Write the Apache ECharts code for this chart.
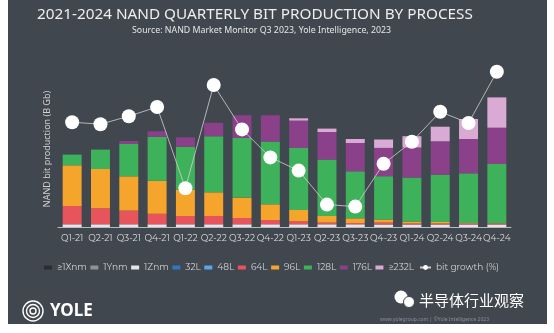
<!DOCTYPE html>
<html>
<head>
<meta charset="utf-8">
<script src="https://cdn.jsdelivr.net/npm/echarts@6/dist/echarts.min.js"></script>
<style>
html,body{margin:0;padding:0;background:#ffffff;}
#chart{width:554px;height:333px;}
</style>
</head>
<body>
<div id="chart"></div>
<script>
const categories = ['Q1-21','Q2-21','Q3-21','Q4-21','Q1-22','Q2-22','Q3-22','Q4-22','Q1-23','Q2-23','Q3-23','Q4-23','Q1-24','Q2-24','Q3-24','Q4-24'];
const x1nm  = [0,0,0,0,0,0,0,0,0,0,0,0,0,0,0,0];
const y1nm  = [0,0,0,0,0,0,0,0,0,0,0,0,0,0,0,0];
const z1nm  = [27,27,27,27,27,27,27,27,27,27,27,25,25,25,25,25];
const l32   = [0,0,0,0,0,0,0,0,0,0,0,0,0,0,0,0];
const l48   = [0,0,0,0,0,0,0,0,0,0,0,0,0,0,0,0];
const l64   = [183,160,137,105,83,83,63,43,30,17,13,20,10,10,10,10];
const l96   = [407,393,343,330,262,237,204,157,113,66,47,30,20,15,5,3];
const l128  = [107,194,323,440,430,560,596,627,620,564,470,433,440,473,497,592];
const l176  = [0,0,30,55,95,135,227,263,274,276,283,283,300,334,343,363];
const l232  = [0,0,0,0,0,0,0,0,23,34,40,84,113,146,200,303];
const bitGrowth = [26.2,25.7,27.7,30.0,9.7,35.5,24.4,17.4,14.1,5.6,5.1,15.8,21.3,28.8,26.0,38.8];

const barNames = ['≥1Xnm','1Ynm','1Znm','32L','48L','64L','96L','128L','176L','≥232L'];
const barData = [x1nm,y1nm,z1nm,l32,l48,l64,l96,l128,l176,l232];
const barColors = ['#2a2e33','#8f9296','#e3e5ea','#2f78c0','#5ba7e6','#e8545b','#f5a42c','#3eb25b','#8a418a','#d9aad4'];
const lineName = 'bit growth (%)';

const chart = echarts.init(document.getElementById('chart'));
const font = 'Montserrat, "Noto Sans", sans-serif';

const series = barNames.map((n,i)=>({
  name:n, type:'bar', stack:'total', data:barData[i],
  itemStyle:{color:barColors[i]}, barCategoryGap:'33%', z:2
}));
series.push({
  name:lineName, type:'line', yAxisIndex:1, data:bitGrowth,
  symbol:'circle', symbolSize:14, z:5,
  itemStyle:{color:'#ffffff'},
  lineStyle:{color:'#d0d0d0', width:0.8}
});

chart.setOption({
  backgroundColor:'transparent',
  animation:false,
  textStyle:{fontFamily:font},
  graphic:[
    {type:'rect', z:-10, shape:{x:8,y:0,width:539,height:324}, style:{fill:'#41474e'}},
    {type:'text', left:37, top:7, style:{text:'2021-2024 NAND QUARTERLY BIT PRODUCTION BY PROCESS', fill:'#eeeeee', font:'15.3px "Noto Sans", sans-serif'}},
    {type:'text', left:132, top:26, style:{text:'Source: NAND Market Monitor Q3 2023, Yole Intelligence, 2023', fill:'#e6e6e6', font:'8.8px "Noto Sans", sans-serif'}},
    {type:'text', x:47, y:149, rotation:Math.PI/2, style:{text:'NAND bit production (B Gb)', fill:'#d0d0d0', font:'9px "Noto Sans", sans-serif', align:'center', verticalAlign:'middle'}},
    {type:'circle', shape:{cx:33,cy:311,r:10}, style:{fill:'none', stroke:'#ffffff', lineWidth:1.4}},
    {type:'circle', shape:{cx:33,cy:311,r:6.5}, style:{fill:'none', stroke:'#ffffff', lineWidth:1.4}},
    {type:'circle', shape:{cx:33,cy:311,r:3}, style:{fill:'none', stroke:'#ffffff', lineWidth:1.4}},
    {type:'text', x:50, y:311, style:{text:'YOLE', fill:'#ffffff', font:'bold 17px "Noto Sans", sans-serif', verticalAlign:'middle'}},
    {type:'circle', shape:{cx:401,cy:297,r:6.5}, style:{fill:'#ffffff'}},
    {type:'circle', shape:{cx:409,cy:302,r:5.5}, style:{fill:'#ffffff', stroke:'#41474e', lineWidth:1}},
    {type:'text', x:419, y:300, style:{text:'半导体行业观察', fill:'#ffffff', font:'15px "Noto Sans CJK SC", sans-serif', verticalAlign:'middle'}},
    {type:'text', x:380, y:320, style:{text:'www.yolegroup.com | ©Yole Intelligence 2023', fill:'#8a8f95', font:'5px "Noto Sans", sans-serif', verticalAlign:'middle'}}
  ],
  legend:[
    {data:barNames, left:39, top:258, itemWidth:8, itemHeight:4, itemGap:3.5,
     icon:'rect', textStyle:{color:'#cfd2d5', fontSize:9, fontFamily:font}},
    {data:[lineName], left:414, top:258, itemWidth:11, itemHeight:6, itemGap:4,
     textStyle:{color:'#cfd2d5', fontSize:9, fontFamily:font}}
  ],
  grid:{left:58, right:43, top:57, bottom:106},
  xAxis:{type:'category', data:categories,
    axisLine:{lineStyle:{color:'#b8bcc0', width:1}},
    axisTick:{show:false},
    axisLabel:{color:'#dcdcdc', fontSize:9, margin:7, interval:0, fontFamily:font}},
  yAxis:[
    {type:'value', min:0, max:1700, show:false, splitLine:{show:false}},
    {type:'value', min:0, max:42.5, show:false, splitLine:{show:false}}
  ],
  series:series
});
</script>
</body>
</html>
